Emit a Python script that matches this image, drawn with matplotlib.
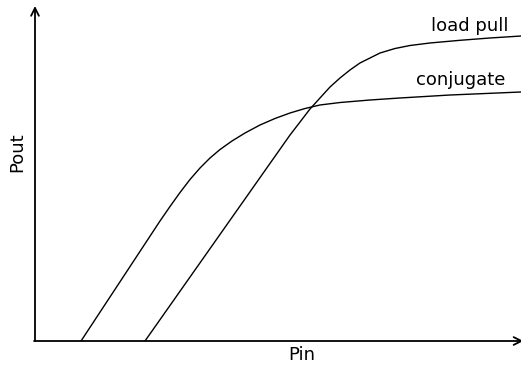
import matplotlib
matplotlib.use("Agg")
import matplotlib.pyplot as plt

# input power sweep (arbitrary units) and output power for each matching case
pin_conj = [9.47, 25.72, 27.78, 29.84, 31.89, 33.95, 36.01, 38.07, 40.53, 43.21,
            46.30, 49.38, 52.47, 55.56, 58.64, 62.76, 68.93, 75.10, 85.39, 100.0]
pout_conj = [0.0, 35.82, 40.15, 44.33, 48.21, 51.64, 54.63, 57.16, 59.70, 62.09,
             64.48, 66.42, 68.06, 69.40, 70.45, 71.19, 71.94, 72.54, 73.43, 74.33]

pin_lp = [22.63, 52.47, 54.53, 56.58, 58.64, 60.70, 62.76, 64.81, 66.87, 68.93,
          70.99, 74.07, 77.16, 81.28, 87.45, 93.62, 100.0]
pout_lp = [0.0, 61.49, 65.37, 69.25, 72.54, 75.82, 78.51, 80.90, 82.99, 84.48,
           85.97, 87.31, 88.21, 88.96, 89.76, 90.45, 91.04]

curve_labels = ["load pull", "conjugate"]

W, H = 521, 371
fig = plt.figure(figsize=(W / 100, H / 100), dpi=100)
ax = fig.add_axes([35 / W, 30 / H, 486 / W, 335 / H])

ax.plot(pin_lp, pout_lp, '-k', linewidth=1.0)
ax.plot(pin_conj, pout_conj, '-k', linewidth=1.0)

ax.set_xlim(0, 100)
ax.set_ylim(0, 100)
for s in ax.spines.values():
    s.set_visible(False)
ax.set_xticks([])
ax.set_yticks([])

# axes drawn as arrows
arrow = dict(arrowstyle='->', color='black', lw=1.3, shrinkA=0, shrinkB=0,
             mutation_scale=14)
ax.annotate('', xy=(0, 1), xytext=(0, 0), xycoords='axes fraction',
            arrowprops=arrow, annotation_clip=False)
ax.annotate('', xy=(1.005, 0), xytext=(-0.002, 0), xycoords='axes fraction',
            arrowprops=arrow, annotation_clip=False)

ax.text(97.5, 92.6, curve_labels[0], ha='right', va='baseline', fontsize=13)
ax.text(96.7, 76.4, curve_labels[1], ha='right', va='baseline', fontsize=13)

fig.text(302 / W, 1 - 355 / H, "Pin", ha='center', va='center', fontsize=13)
fig.text(17 / W, 1 - 152 / H, "Pout", ha='center', va='center', fontsize=13,
         rotation=90)

fig.savefig("out.png", dpi=100)
